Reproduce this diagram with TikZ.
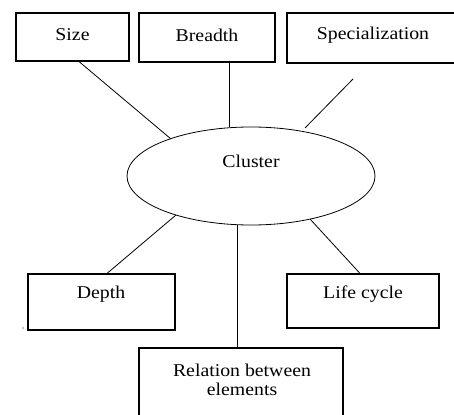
\documentclass[tikz,border=0pt]{standalone}
\usepackage{fontspec}
\setmainfont[FakeStretch=1.1]{Liberation Serif}
\usetikzlibrary{shapes.geometric}
\tikzset{
  box/.style={draw, line width=1.1pt, rectangle, inner sep=0pt},
  conn/.style={draw, line width=0.8pt},
  txt/.style={font=\fontsize{18}{21}\selectfont, inner sep=0pt, align=center},
}
\begin{document}
\begin{tikzpicture}[x=1pt,y=-1pt]
\useasboundingbox (0,0) rectangle (454,414);
% boxes
\node[box, minimum width=113, minimum height=48] (size) at (72.5,37) {};
\node[box, minimum width=136, minimum height=49] (breadth) at (207,37.5) {};
\node[box, minimum width=170, minimum height=50] (spec) at (372,38) {};
\node[box, minimum width=147, minimum height=56] (depth) at (101.5,302) {};
\node[box, minimum width=152, minimum height=54] (life) at (363,301) {};
\node[box, minimum width=204, minimum height=80] (rel) at (241,388) {};
\node[draw, ellipse, line width=0.8pt, minimum width=248, minimum height=98, inner sep=0pt] (cluster) at (251,176) {};
% texts
\node[txt] (sizet) at (72.5,35) {Size};
\node[txt] (breadtht) at (207,35) {Breadth};
\node[txt] (spect) at (373,35) {Specialization};
\node[txt] (clustert) at (251,161) {Cluster};
\node[txt] (deptht) at (101,294) {Depth};
\node[txt] (lifet) at (363,294) {Life cycle};
\node[txt] (relt) at (242,380) {Relation between\\[-2pt]elements};
% connector ends
\coordinate (sizeE) at (171,139);
\coordinate (specS) at (353,79);
\coordinate (specE) at (305,128);
\coordinate (depthS) at (176,215);
\coordinate (lifeS) at (310,219);
% connectors
\draw[conn] (size.south -| 79,0) -- (sizeE);
\draw[conn] (breadth.south -| 229,0) -- (cluster.north -| 229,0);
\draw[conn] (specS) -- (specE);
\draw[conn] (depthS) -- (depth.north -| 107,0);
\draw[conn] (cluster.south -| 237,0) -- (rel.north -| 237,0);
\draw[conn] (lifeS) -- (life.north -| 360,0);
% stray dot
\fill (23,328) circle (0.7);
\end{tikzpicture}
\end{document}
